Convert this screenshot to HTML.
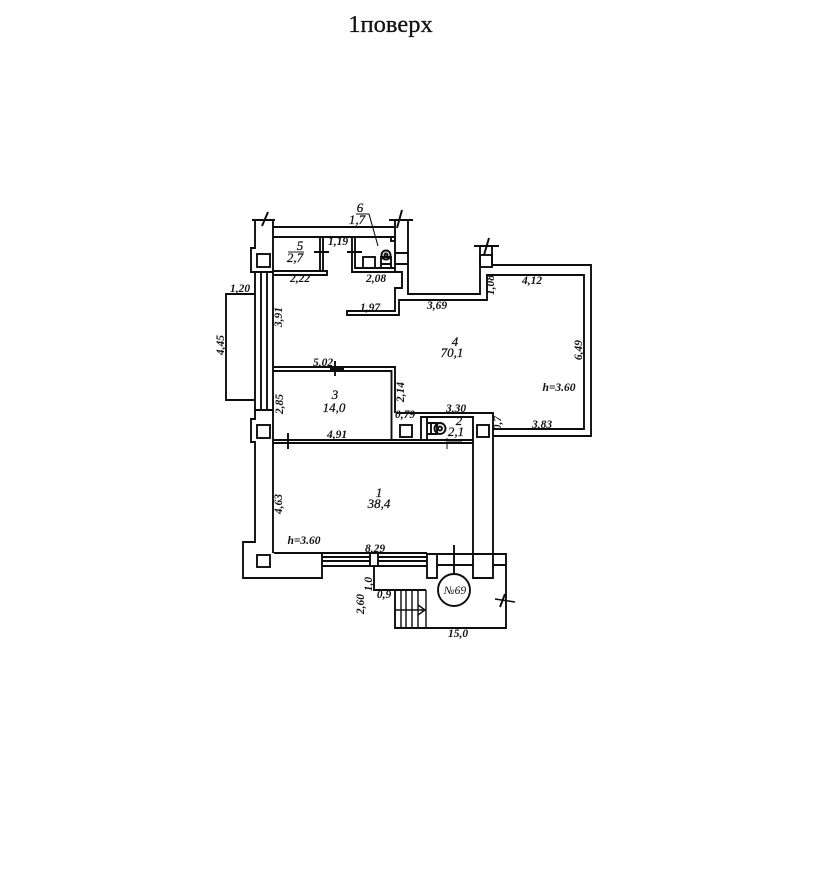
<!DOCTYPE html>
<html><head><meta charset="utf-8"><style>
html,body{margin:0;padding:0;background:#fff}
svg{display:block}
text{font-family:"Liberation Serif","DejaVu Serif",serif;fill:#111}
.t{font-style:italic;font-size:11.5px;font-weight:bold;text-anchor:middle}
.r{font-style:italic;font-size:13px;text-anchor:middle;stroke:#111;stroke-width:0.25px}
</style></head><body>
<svg width="833" height="877" viewBox="0 0 833 877">
<defs><filter id="b" x="-5%" y="-5%" width="110%" height="110%"><feGaussianBlur stdDeviation="0.25"/></filter></defs>
<text x="390.5" y="32" font-size="24.5" text-anchor="middle" stroke="#111" stroke-width="0.3">1поверх</text>
<g fill="none" stroke="#111" stroke-width="1.9" filter="url(#b)">
<!-- left wall top -->
<path d="M255 220V248H251V272H255V410M273 220V410M252 220H275M261 272V410M267 272V410M255 272H273M255 410H273"/>
<path d="M262 226L268 212" stroke-width="2"/>
<rect x="257" y="254" width="13" height="13"/>
<!-- left box -->
<path d="M255 294H226V400H255"/>
<!-- top corridor -->
<path d="M273 227H395M273 237H395M389 220H413M395 220V272M408 220V294H480V246M492 246V265M474 246H499"/>
<path d="M397 228L402 210M484 255L489 238" stroke-width="2"/>
<rect x="480" y="255" width="12" height="12"/>
<!-- room 5 -->
<path d="M273 271H327V275H273M320 237V271M323 237V271M314 252H329"/>
<!-- room 6 -->
<path d="M352 237V272H395M355 237V268H395M347 252H362"/>
<rect x="363" y="257" width="12" height="11"/>
<path d="M381 268V257H391V268M381 264H391"/>
<circle cx="386" cy="255" r="4.5"/>
<circle cx="386" cy="255" r="1.5"/>
<rect x="391" y="237" width="4" height="4"/>
<path d="M395 253H408M395 264H408"/>
<path d="M356 214H369L378 246" stroke-width="1.1"/>
<!-- stub -->
<path d="M395 272H402V288H395V311H347V315H399V300H487V275H584V429H493M492 265H591V436H493"/>
<!-- room 3 -->
<path d="M273 367H395V413M273 371H391.5V440"/>
<path d="M273 440H473M273 443H473"/>
<path d="M273 410V553M335 361V376M288 433V449M284 443H296M330 369H344"/>
<!-- pillar lower -->
<path d="M255 410V419H251V442H255V542H243V578H322V553H274"/>
<rect x="257" y="425" width="13" height="13"/>
<rect x="257" y="555" width="13" height="12"/>
<!-- toilet room & pillar -->
<path d="M396 413H493V578H473V417H421V440M427 417V440"/>
<rect x="400" y="425" width="12" height="12"/>
<rect x="477" y="425" width="12" height="12"/>
<path d="M428 423H437V434H428M431 423V434"/>
<circle cx="440" cy="428.5" r="5.5"/>
<circle cx="440" cy="428.5" r="2"/>
<path d="M447 438V449M448 441H462" stroke-width="1"/>
<!-- bottom window -->
<path d="M322 553H427M322 557H427M322 561H427M322 566H427"/>
<rect x="370" y="553" width="8" height="13" fill="#fff"/>
<path d="M374 566V590H426M395 590V628H506V554H427"/>
<path d="M437 565H473M493 565H506"/>
<rect x="427" y="554" width="10" height="24"/>
<path d="M401 590V628M406 590V628M412 590V628M418 590V628M426 590V628M395 610H424M418 605L425 610L418 615" stroke-width="1.4"/>
<circle cx="454" cy="590" r="16"/>
<path d="M454 545V574"/>
<path d="M495 599L515 602" stroke-width="1.6"/>
<path d="M500 607L505 594" stroke-width="2"/>
</g>
<text class="r" x="360" y="212">6</text>
<text class="r" x="357" y="224">1,7</text>
<text class="r" x="300" y="250">5</text>
<text class="r" x="295" y="262">2,7</text>
<path d="M288 252H304" stroke="#222"/>
<text class="t" x="338" y="245">1,19</text>
<text class="t" x="300" y="282">2,22</text>
<text class="t" x="376" y="282">2,08</text>
<text class="t" x="370" y="311">1,97</text>
<text class="t" x="240" y="292">1,20</text>
<text class="t" x="437" y="309">3,69</text>
<text class="t" x="532" y="284">4,12</text>
<text class="t" transform="translate(494 285) rotate(-90)">1,08</text>
<text class="t" transform="translate(282 317) rotate(-90)">3,91</text>
<text class="t" transform="translate(224 345) rotate(-90)">4,45</text>
<text class="t" transform="translate(582 350) rotate(-90)">6,49</text>
<text class="r" x="455" y="346">4</text>
<text class="r" x="452" y="357">70,1</text>
<text class="t" x="559" y="391">h=3.60</text>
<text class="t" x="323" y="366">5,02</text>
<text class="t" transform="translate(404 392) rotate(-90)">2,14</text>
<text class="r" x="335" y="399">3</text>
<text class="r" x="334" y="412">14,0</text>
<text class="t" transform="translate(283 404) rotate(-90)">2,85</text>
<text class="t" x="405" y="418">0,79</text>
<text class="t" x="456" y="412">3,30</text>
<text class="r" x="459" y="425">2</text>
<text class="r" x="456" y="436">2,1</text>
<text class="t" transform="translate(501 423) rotate(-90)">0,7</text>
<text class="t" x="542" y="428">3,83</text>
<text class="t" x="337" y="438">4,91</text>
<text class="t" transform="translate(282 504) rotate(-90)">4,63</text>
<text class="r" x="379" y="497">1</text>
<text class="r" x="379" y="508">38,4</text>
<text class="t" x="304" y="544">h=3.60</text>
<text class="t" x="375" y="552">8,29</text>
<text class="t" transform="translate(372 584) rotate(-90)">1,0</text>
<text class="t" x="384" y="598">0,9</text>
<text class="t" transform="translate(364 604) rotate(-90)">2,60</text>
<text class="t" x="455" y="594" style="font-weight:normal">№69</text>
<text class="t" x="458" y="637">15,0</text>
</svg>
</body></html>
